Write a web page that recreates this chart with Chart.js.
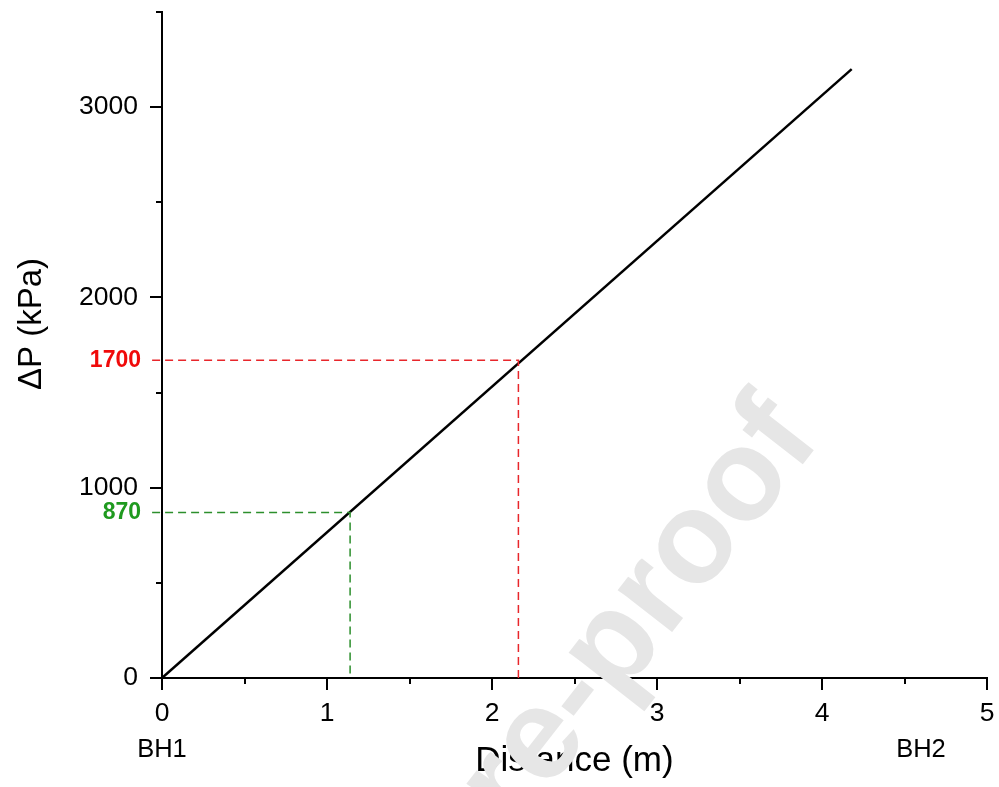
<!DOCTYPE html>
<html>
<head>
<meta charset="utf-8">
<script src="https://cdn.jsdelivr.net/npm/chart.js@4.4.0/dist/chart.umd.min.js"></script>
<style>
  html,body{margin:0;padding:0;background:#fff;}
</style>
</head>
<body>
<canvas id="dp" width="999" height="787"></canvas>
<script>
/* ---------- data ---------- */
const lineX   = [0, 4.18];          // Distance (m)
const lineY   = [0, 3200];          // ΔP (kPa)
const redPt   = [2.16, 1670];       // marked point, labelled 1700
const greenPt = [1.14, 870];        // marked point, labelled 870
const marks   = ['1700', '870'];
const ends    = ['BH1', 'BH2'];
const endsAt  = [0, 4.6];

/* ---------- look ---------- */
const FONT = '"Liberation Sans", Arial, sans-serif';
const col  = {red:'#e8262b', redTxt:'#f00a0a', green:'#2c8f2c', greenTxt:'#1f9a1f', wm:'#e6e6e6'};

const $ = q => document.querySelector(q);

/* ticks, labels, watermark – all placed via the chart scales */
const extras = {
  id:'extras',
  afterDraw(chart){
    const {ctx, scales:{x, y}, chartArea:a} = chart;
    ctx.save();
    ctx.strokeStyle = '#000'; ctx.lineWidth = 2;
    // x ticks (major 1, minor 0.5)
    for (let v = 0; v <= 5.001; v += 0.5){
      const px = Math.round(x.getPixelForValue(v)), len = Number.isInteger(v) ? 12 : 6;
      ctx.beginPath(); ctx.moveTo(px, a.bottom); ctx.lineTo(px, a.bottom + len); ctx.stroke();
    }
    // y ticks (major 1000, minor 500)
    for (let v = 0; v <= 3500; v += 500){
      const py = Math.round(y.getPixelForValue(v)), len = v % 1000 === 0 ? 12 : 6;
      ctx.beginPath(); ctx.moveTo(a.left, py); ctx.lineTo(a.left - len, py); ctx.stroke();
    }
    // coloured value labels
    ctx.font = `bold 23px ${FONT}`; ctx.textAlign = 'right'; ctx.textBaseline = 'middle';
    ctx.fillStyle = col.redTxt;   ctx.fillText(marks[0], a.left - 21, y.getPixelForValue(redPt[1]));
    ctx.fillStyle = col.greenTxt; ctx.fillText(marks[1], a.left - 21, y.getPixelForValue(greenPt[1]));
    // borehole names
    ctx.font = `25.5px ${FONT}`; ctx.textAlign = 'center'; ctx.fillStyle = '#000';
    ends.forEach((t, i) => ctx.fillText(t, x.getPixelForValue(endsAt[i]), 750));
    // y title
    ctx.save();
    ctx.translate(32, 324); ctx.rotate(-Math.PI/2);
    ctx.font = `33px ${FONT}`; ctx.textAlign = 'center'; ctx.textBaseline = 'middle';
    ctx.fillText('\u0394P (kPa)', 0, 0);
    ctx.restore();
    // watermark
    ctx.save();
    ctx.translate(822, 440); ctx.rotate(-52 * Math.PI/180);
    ctx.font = `bold 130px ${FONT}`; ctx.textAlign = 'right'; ctx.textBaseline = 'alphabetic';
    ctx.fillStyle = col.wm; ctx.fillText('Journal Pre-proof', 0, 0);
    ctx.restore();
    ctx.restore();
  }
};

const guide = (pt, c) => ({
  data:[{x:-0.06, y:pt[1]}, {x:pt[0], y:pt[1]}, {x:pt[0], y:0}],
  showLine:true, borderColor:c, borderWidth:1.5, borderDash:[8,5],
  pointRadius:0, clip:false
});

new Chart($('#dp'), {
  type:'scatter',
  data:{datasets:[
    guide(redPt, col.red),
    guide(greenPt, col.green),
    {data:lineX.map((v, i) => ({x:v, y:lineY[i]})),
     showLine:true, borderColor:'#000', borderWidth:2.5, pointRadius:0}
  ]},
  options:{
    responsive:false, animation:false, devicePixelRatio:1,
    layout:{padding:{top:12, right:12, left:0, bottom:0}},
    plugins:{legend:{display:false}, tooltip:{enabled:false}},
    scales:{
      x:{type:'linear', min:0, max:5,
         afterFit:s => { s.height = 109; s.paddingLeft = 0; s.paddingRight = 0; },
         border:{display:true, color:'#000', width:2},
         grid:{display:true, drawOnChartArea:false, drawTicks:true, tickLength:12, tickColor:'rgba(0,0,0,0)'},
         ticks:{stepSize:0.5, autoSkip:false, maxRotation:0, padding:8, color:'#000',
                font:{family:FONT, size:26.5},
                callback:v => Number.isInteger(v) ? v : ''},
         title:{display:true, text:'Distance (m)', color:'#000',
                font:{family:FONT, size:35}, padding:{top:0, bottom:5}}},
      y:{type:'linear', min:0, max:3500,
         afterFit:s => { s.width = 162; s.paddingTop = 0; s.paddingBottom = 0; },
         border:{display:true, color:'#000', width:2},
         grid:{display:true, drawOnChartArea:false, drawTicks:true, tickLength:12, tickColor:'rgba(0,0,0,0)'},
         ticks:{stepSize:500, autoSkip:false, padding:12, color:'#000',
                font:{family:FONT, size:26.5},
                callback:v => v % 1000 === 0 ? v : ''}}
    }
  },
  plugins:[extras]
});
</script>
</body>
</html>
